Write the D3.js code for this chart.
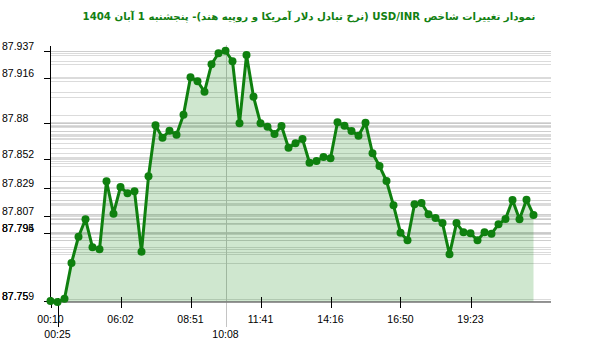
<!DOCTYPE html>
<html><head><meta charset="utf-8">
<script src="https://cdn.jsdelivr.net/npm/d3@7"></script>
<style>
html,body{margin:0;padding:0;background:#fff;}
svg{display:block;}
</style></head>
<body>
<svg id="c" width="600" height="352"></svg>
<script>
const title = "نمودار تغییرات شاخص USD/INR (نرخ تبادل دلار آمریکا و روپیه هند)- پنجشنبه  1 آبان 1404";

const values = [
 87.7397, 87.7389, 87.7415, 87.7697, 87.7904, 87.8042, 87.7821, 87.7805, 87.8342, 87.8086,
 87.8297, 87.8247, 87.8263, 87.7786, 87.8381, 87.8784, 87.8686, 87.8741, 87.8709, 87.8867,
 87.9162, 87.9131, 87.9049, 87.9265, 87.9352, 87.9372, 87.9289, 87.8799, 87.9338, 87.9009,
 87.8799, 87.8773, 87.8715, 87.8778, 87.8607, 87.8641, 87.8675, 87.8488, 87.8502, 87.8533,
 87.8523, 87.8807, 87.8780, 87.8739, 87.8701, 87.8804, 87.8563, 87.8462, 87.8344, 87.8152,
 87.7936, 87.7876, 87.8160, 87.8170, 87.8081, 87.8052, 87.8012, 87.7765, 87.8012, 87.7939,
 87.7931, 87.7876, 87.7939, 87.7928, 87.8002, 87.8044, 87.8194, 87.8042, 87.8196, 87.8076
];

const xTickIndex = [0, 10, 20, 30, 40, 50, 60];
const xTickLabels = ["00:10", "06:02", "08:51", "11:41", "14:16", "16:50", "19:23"];
const xLongTickIndex = [1];
const xLongTickLabels = ["00:25"];
const xLineIndex = [25];
const xLineLabels = ["10:08"];

const yTickValues = [87.937, 87.916, 87.88, 87.852, 87.829, 87.807, 87.7935, 87.7935, 87.7397, 87.7397];
const yTickLabels = ["87.937", "87.916", "87.88", "87.852", "87.829", "87.807", "87.795", "87.794", "87.759", "87.75"];

const svg = d3.select("#c");
const green = "#0f800f";

const x = d3.scaleLinear().domain([0, 71.5]).range([50.5, 551]);
const y = d3.scaleLinear().domain([87.7397, 87.937]).range([301, 51]);
const yBase = 301.5;

// title
svg.append("text")
  .attr("x", 309).attr("y", 20)
  .attr("text-anchor", "middle")
  .attr("direction", "rtl")
  .attr("font-family", "Tahoma, 'DejaVu Sans', sans-serif")
  .attr("font-weight", "bold")
  .attr("font-size", 10.2)
  .attr("fill", "#128012")
  .text(title);

// horizontal gridlines at data values and ticks
const gridVals = values.concat(yTickValues);
svg.append("g").selectAll("line").data(gridVals).join("line")
  .attr("x1", 51).attr("x2", 551)
  .attr("y1", d => Math.round(y(d)) + 0.5).attr("y2", d => Math.round(y(d)) + 0.5)
  .attr("stroke", "#c8c8c8").attr("stroke-opacity", 0.65).attr("stroke-width", 1);

// vertical grid line
svg.append("g").selectAll("line").data(xLineIndex).join("line")
  .attr("x1", d => Math.round(x(d)) + 0.5).attr("x2", d => Math.round(x(d)) + 0.5)
  .attr("y1", 45).attr("y2", 327)
  .attr("stroke", "#c4c4c4").attr("stroke-width", 1);

// area
const area = d3.area().x((d, i) => x(i)).y0(yBase).y1(d => y(d));
svg.append("path").datum(values)
  .attr("d", area)
  .attr("fill", "rgb(0,128,0)").attr("fill-opacity", 0.19);

// axes lines
svg.append("line").attr("x1", 50.5).attr("x2", 50.5).attr("y1", 46).attr("y2", 302)
  .attr("stroke", "#000").attr("stroke-width", 1);
svg.append("line").attr("x1", 50).attr("x2", 551).attr("y1", 302).attr("y2", 302)
  .attr("stroke", "#555").attr("stroke-width", 1.2);

// y ticks
const yt = svg.append("g");
yt.selectAll("line").data(yTickValues).join("line")
  .attr("x1", 44).attr("x2", 51)
  .attr("y1", d => Math.round(y(d)) + 0.5).attr("y2", d => Math.round(y(d)) + 0.5)
  .attr("stroke", "#000");
yt.selectAll("text").data(yTickValues).join("text")
  .attr("x", 2).attr("y", d => y(d) - 1)
  .attr("font-family", "'Liberation Sans', Arial, sans-serif")
  .attr("font-size", 10.5)
  .attr("fill", "#000")
  .text((d, i) => yTickLabels[i]);

// x ticks
const xt = svg.append("g").attr("font-family", "'Liberation Sans', Arial, sans-serif").attr("font-size", 10.5);
xt.selectAll("line.s").data(xTickIndex).join("line").attr("class", "s")
  .attr("x1", d => Math.round(x(d)) + 0.5).attr("x2", d => Math.round(x(d)) + 0.5)
  .attr("y1", 297).attr("y2", 308).attr("stroke", "#000");
xt.selectAll("text.s").data(xTickIndex).join("text").attr("class", "s")
  .attr("x", d => x(d)).attr("y", 323).attr("text-anchor", "middle")
  .text((d, i) => xTickLabels[i]);
xt.selectAll("line.l").data(xLongTickIndex).join("line").attr("class", "l")
  .attr("x1", d => Math.round(x(d)) + 0.5).attr("x2", d => Math.round(x(d)) + 0.5)
  .attr("y1", 298).attr("y2", 327).attr("stroke", "#000");
xt.selectAll("text.l").data(xLongTickIndex).join("text").attr("class", "l")
  .attr("x", d => x(d)).attr("y", 338).attr("text-anchor", "middle")
  .text((d, i) => xLongTickLabels[i]);
xt.selectAll("text.v").data(xLineIndex).join("text").attr("class", "v")
  .attr("x", d => x(d)).attr("y", 338).attr("text-anchor", "middle")
  .text((d, i) => xLineLabels[i]);

// line
const line = d3.line().x((d, i) => x(i)).y(d => y(d));
svg.append("path").datum(values)
  .attr("d", line)
  .attr("fill", "none").attr("stroke", green).attr("stroke-width", 3)
  .attr("stroke-linejoin", "round");

svg.append("g").selectAll("circle").data(values).join("circle")
  .attr("cx", (d, i) => x(i)).attr("cy", d => y(d)).attr("r", 4)
  .attr("fill", green);
</script>
</body></html>
